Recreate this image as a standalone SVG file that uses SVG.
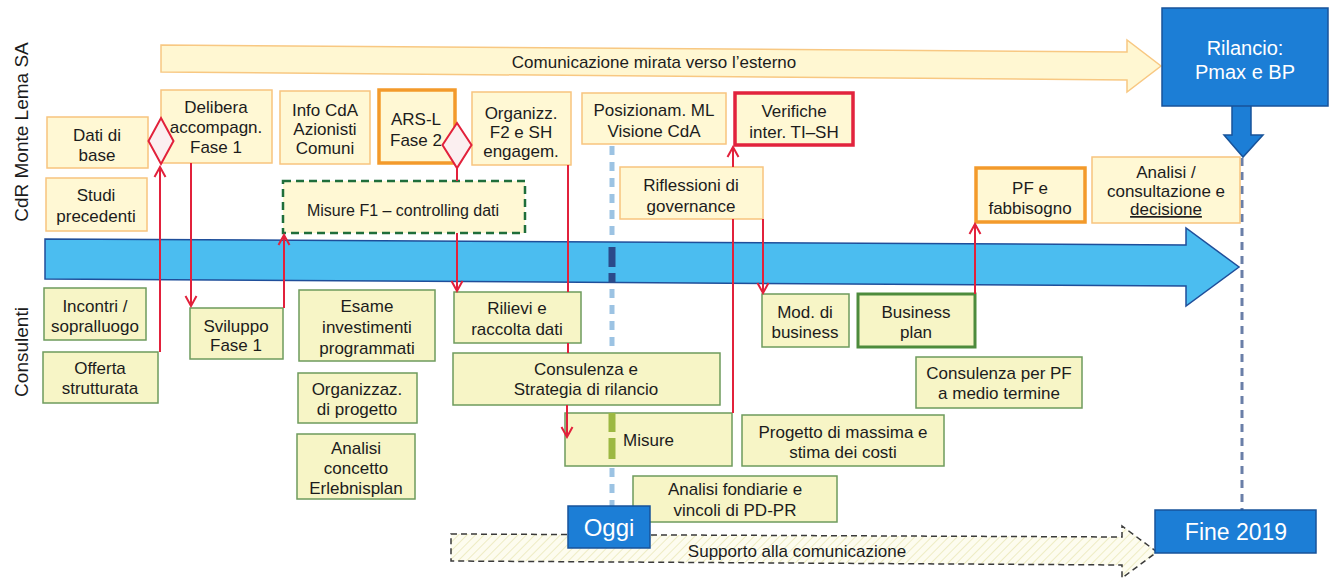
<svg xmlns="http://www.w3.org/2000/svg" width="1334" height="581" viewBox="0 0 1334 581">
<style>
.t{font-family:"Liberation Sans",Arial,sans-serif;font-size:17px;fill:#1c1c1c;text-anchor:middle}
.w{font-family:"Liberation Sans",Arial,sans-serif;fill:#ffffff;text-anchor:middle}
.side{font-family:"Liberation Sans",Arial,sans-serif;font-size:19px;fill:#1c1c1c;text-anchor:middle}
.cdr{fill:#FFF8D4;stroke:#F8C47E;stroke-width:1.5}
.cdrB{fill:#FFF8D4;stroke:#F39A2B;stroke-width:3.5}
.red{fill:#FFF8D4;stroke:#E2233D;stroke-width:3.5}
.cons{fill:#F7F5C6;stroke:#6E9B5C;stroke-width:1.5}
.consB{fill:#F7F5C6;stroke:#4D8B3C;stroke-width:3}
.blue{fill:#1C7ED6;stroke:#17539A;stroke-width:1.5}
.conn{stroke:#E2213B;stroke-width:2;fill:none}
.dia{fill:#FBEFF0;stroke:#E2213B;stroke-width:2}
</style>
<defs>
<marker id="ah" viewBox="-11 -7 13 14" refX="0" refY="0" markerWidth="13" markerHeight="14" markerUnits="userSpaceOnUse" orient="auto">
<path d="M-10,-5.5 L0,0 L-10,5.5" fill="none" stroke="#E2213B" stroke-width="2"/>
</marker>
<pattern id="hatch" width="6" height="6" patternUnits="userSpaceOnUse" patternTransform="rotate(45)">
<rect width="6" height="6" fill="#FDFCEF"/>
<line x1="0" y1="0" x2="0" y2="6" stroke="#EEECC4" stroke-width="2"/>
</pattern>
</defs>
<rect width="1334" height="581" fill="#ffffff"/>

<g id="side-labels">
<text class="side" transform="translate(28,132) rotate(-90)">CdR Monte Lema SA</text>
<text class="side" transform="translate(28,352) rotate(-90)">Consulenti</text>
</g>

<g id="comunicazione">
<polygon points="161,45 1127,52 1127,40 1161,66 1127,92 1127,80 161,72" fill="#FFF7D2" stroke="#F8C882" stroke-width="1.5"/>
<text class="t" x="654" y="68">Comunicazione mirata verso l’esterno</text>
</g>

<g id="timeline">
<polygon points="45,239 1186,245 1186,228 1239,267 1186,306 1186,286 45,279" fill="#4BBDF0" stroke="#1F4E9A" stroke-width="1.5"/>
</g>

<g id="supporto">
<polygon points="451,534 1122,537 1122,526 1157,552 1122,578 1122,565 451,561" fill="url(#hatch)" stroke="#3a3a3a" stroke-width="1.5" stroke-dasharray="6 4"/>
<text class="t" x="797" y="557">Supporto alla comunicazione</text>
</g>

<g id="fine-line">
<line x1="1242" y1="158" x2="1242" y2="510" stroke="#6A7FA8" stroke-width="3" stroke-dasharray="8 6"/>
</g>

<g id="dati-base"><rect class="cdr" x="47" y="117" width="101" height="51"/><text class="t" x="97" y="141">Dati di</text><text class="t" x="97" y="161">base</text></g>
<g id="studi"><rect class="cdr" x="46" y="178" width="101" height="53"/><text class="t" x="96" y="201">Studi</text><text class="t" x="96" y="222">precedenti</text></g>
<g id="delibera"><rect class="cdr" x="161" y="90" width="111" height="73"/><text class="t" x="216" y="113">Delibera</text><text class="t" x="216" y="133">accompagn.</text><text class="t" x="216" y="153">Fase 1</text></g>
<g id="info-cda"><rect class="cdr" x="280" y="91" width="90" height="73"/><text class="t" x="325" y="116">Info CdA</text><text class="t" x="325" y="135">Azionisti</text><text class="t" x="325" y="154">Comuni</text></g>
<g id="ars-l"><rect class="cdrB" x="379" y="90" width="76" height="73"/><text class="t" x="416" y="125">ARS-L</text><text class="t" x="416" y="146">Fase 2</text></g>
<g id="organizz-f2"><rect class="cdr" x="472" y="92" width="99" height="73"/><text class="t" x="521" y="119">Organizz.</text><text class="t" x="521" y="138">F2 e SH</text><text class="t" x="521" y="157">engagem.</text></g>
<g id="posizionam"><rect class="cdr" x="582" y="93" width="144" height="51"/><text class="t" x="654" y="116">Posizionam. ML</text><text class="t" x="654" y="137">Visione CdA</text></g>
<g id="verifiche"><rect class="red" x="735" y="93" width="118" height="52"/><text class="t" x="794" y="117">Verifiche</text><text class="t" x="794" y="138">inter. TI–SH</text></g>
<g id="riflessioni"><rect class="cdr" x="620" y="167" width="143" height="52"/><text class="t" x="691" y="191">Riflessioni di</text><text class="t" x="691" y="212">governance</text></g>
<g id="misure-f1"><rect x="283" y="181" width="242" height="52" fill="#FFF8D4" stroke="#1F6E3A" stroke-width="2.5" stroke-dasharray="8 5"/><text class="t" x="403" y="216" style="font-size:16px">Misure F1 – controlling dati</text></g>
<g id="pf-fabbisogno"><rect class="cdrB" x="976" y="168" width="109" height="54"/><text class="t" x="1030" y="194">PF e</text><text class="t" x="1030" y="214">fabbisogno</text></g>
<g id="analisi-decisione"><rect class="cdr" x="1092" y="157" width="148" height="66"/><text class="t" x="1166" y="178">Analisi /</text><text class="t" x="1166" y="197">consultazione e</text><text class="t" x="1166" y="215" text-decoration="underline">decisione</text></g>

<g id="rilancio">
<polygon class="blue" points="1232,105 1251,105 1251,135 1263,135 1243,157 1224,135 1232,135"/>
<rect class="blue" x="1162" y="8" width="166" height="98"/>
<text class="w" x="1245" y="55" style="font-size:20px">Rilancio:</text>
<text class="w" x="1245" y="79" style="font-size:20px">Pmax e BP</text>
</g>

<g id="incontri"><rect class="cons" x="44" y="288" width="102" height="52"/><text class="t" x="95" y="312">Incontri /</text><text class="t" x="95" y="332">sopralluogo</text></g>
<g id="offerta"><rect class="cons" x="43" y="352" width="115" height="51"/><text class="t" x="100" y="374">Offerta</text><text class="t" x="100" y="394">strutturata</text></g>
<g id="sviluppo"><rect class="cons" x="190" y="308" width="93" height="51"/><text class="t" x="236" y="332">Sviluppo</text><text class="t" x="236" y="351">Fase 1</text></g>
<g id="esame"><rect class="cons" x="299" y="290" width="136" height="71"/><text class="t" x="367" y="312">Esame</text><text class="t" x="367" y="333">investimenti</text><text class="t" x="367" y="354">programmati</text></g>
<g id="organizzaz"><rect class="cons" x="298" y="373" width="119" height="50"/><text class="t" x="357" y="395">Organizzaz.</text><text class="t" x="357" y="415">di progetto</text></g>
<g id="analisi-concetto"><rect class="cons" x="297" y="434" width="118" height="65"/><text class="t" x="356" y="454">Analisi</text><text class="t" x="356" y="474">concetto</text><text class="t" x="356" y="494">Erlebnisplan</text></g>
<g id="rilievi"><rect class="cons" x="454" y="292" width="127" height="51"/><text class="t" x="517" y="314">Rilievi e</text><text class="t" x="517" y="335">raccolta dati</text></g>
<g id="consulenza"><rect class="cons" x="453" y="353" width="267" height="52"/><text class="t" x="586" y="375">Consulenza e</text><text class="t" x="586" y="395">Strategia di rilancio</text></g>
<g id="misure"><rect class="cons" x="565" y="413" width="167" height="53"/><text class="t" x="623" y="446" style="text-anchor:start">Misure</text></g>
<g id="mod-business"><rect class="cons" x="762" y="294" width="87" height="53"/><text class="t" x="805" y="318">Mod. di</text><text class="t" x="805" y="338">business</text></g>
<g id="business-plan"><rect class="consB" x="858" y="294" width="117" height="53"/><text class="t" x="916" y="318">Business</text><text class="t" x="916" y="338">plan</text></g>
<g id="consulenza-pf"><rect class="cons" x="916" y="357" width="166" height="51"/><text class="t" x="999" y="379">Consulenza per PF</text><text class="t" x="999" y="399">a medio termine</text></g>
<g id="progetto"><rect class="cons" x="742" y="415" width="202" height="51"/><text class="t" x="843" y="438">Progetto di massima e</text><text class="t" x="843" y="458">stima dei costi</text></g>
<g id="analisi-fondiarie"><rect class="cons" x="633" y="476" width="204" height="46"/><text class="t" x="735" y="495">Analisi fondiarie e</text><text class="t" x="735" y="516">vincoli di PD-PR</text></g>

<g id="connectors">
<path class="conn" d="M160,352 V167" marker-end="url(#ah)"/>
<path class="conn" d="M191,163 V306" marker-end="url(#ah)"/>
<path class="conn" d="M284,308 V235" marker-end="url(#ah)"/>
<path class="conn" d="M457,168 V181"/>
<path class="conn" d="M457,233 V291" marker-end="url(#ah)"/>
<path class="conn" d="M568,165 V292 M568,343 V353"/>
<path class="conn" d="M567,405 V437" marker-end="url(#ah)"/>
<path class="conn" d="M733,413 V219"/>
<path class="conn" d="M733,167 V147" marker-end="url(#ah)"/>
<path class="conn" d="M763,219 V293" marker-end="url(#ah)"/>
<path class="conn" d="M975,294 V224" marker-end="url(#ah)"/>
</g>

<g id="diamond-1"><polygon class="dia" points="161,118 173.5,141 161,164 148.5,141"/></g>
<g id="diamond-2"><polygon class="dia" points="457,123 471.5,145 457,168 442.5,145"/></g>

<g id="oggi-line">
<line x1="612" y1="146" x2="612" y2="241" stroke="#9CC3E3" stroke-width="5" stroke-dasharray="9 7"/>
<line x1="612" y1="247" x2="612" y2="267" stroke="#2B4A8A" stroke-width="7"/>
<line x1="612" y1="273" x2="612" y2="283" stroke="#2B4A8A" stroke-width="7"/>
<line x1="612" y1="289" x2="612" y2="353" stroke="#9CC3E3" stroke-width="5" stroke-dasharray="9 7"/>
<line x1="612" y1="413" x2="612" y2="432" stroke="#9CB842" stroke-width="7"/>
<line x1="612" y1="438" x2="612" y2="459" stroke="#9CB842" stroke-width="7"/>
<line x1="612" y1="468" x2="612" y2="506" stroke="#9CC3E3" stroke-width="5" stroke-dasharray="9 7"/>
</g>

<g id="oggi"><rect class="blue" x="568" y="506" width="82" height="42"/><text class="w" x="609" y="536" style="font-size:24px">Oggi</text></g>
<g id="fine-2019"><rect class="blue" x="1155" y="510" width="161" height="43"/><text class="w" x="1236" y="540" style="font-size:23px">Fine 2019</text></g>
</svg>
